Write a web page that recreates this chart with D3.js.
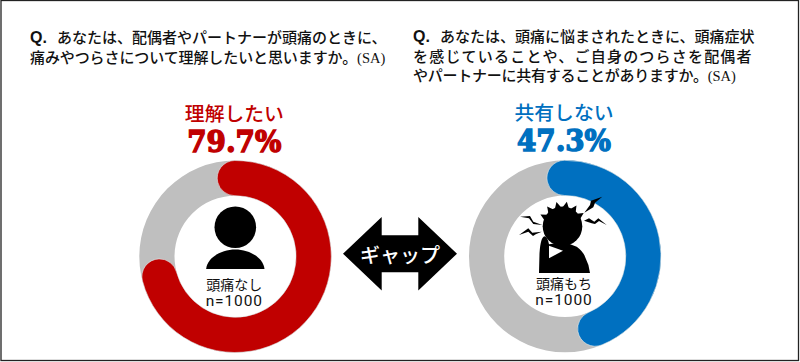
<!DOCTYPE html>
<html lang="ja">
<head>
<meta charset="utf-8">
<script src="https://cdn.jsdelivr.net/npm/d3@7"></script>
<style>
html,body{margin:0;padding:0;background:#fff}
svg{display:block}
</style>
</head>
<body>
<svg id="chart" width="800" height="362"></svg>
<script>
const panelNames = ["頭痛なし", "頭痛もち"];
const panelSizes = ["n=1000", "n=1000"];
const answerLabels = ["理解したい", "共有しない"];
const answerValues = [79.7, 47.3];
// Where each coloured arc actually ends in the picture, in percent of the ring.
const drawnArcEnds = [74.5, 47.3];
const arcColors = ["#c00000", "#0070c0"];
const questionLines = [
  ["あなたは、配偶者やパートナーが頭痛のときに、", "痛みやつらさについて理解したいと思いますか。"],
  ["あなたは、頭痛に悩まされたときに、頭痛症状", "を感じていることや、ご自身のつらさを配偶者", "やパートナーに共有することがありますか。"]
];
const gapLabel = "ギャップ";

const JP = '"Noto Sans CJK JP","Noto Sans",sans-serif';
const svg = d3.select("#chart");
svg.append("rect").attr("x",1).attr("y",0.5).attr("width",797.5).attr("height",360)
  .attr("fill","#fff").attr("stroke","#222").attr("stroke-width",1.3);

const centers = [[235.3,256.5],[565,256.3]];
const rO = 96, rI = 60.8;
const angle = d3.scaleLinear().domain([0,100]).range([0,2*Math.PI]);
const capStart = -3.7;
const ring = d3.arc().innerRadius(rI).outerRadius(rO);
const band = d3.arc().innerRadius(rI).outerRadius(rO).cornerRadius((rO-rI)/2);

answerValues.forEach((v,i)=>{
  const g = svg.append("g").attr("transform",`translate(${centers[i]})`);
  g.append("path").attr("fill","#bfbfbf")
    .attr("d",ring({startAngle:0,endAngle:2*Math.PI}));
  g.append("path").attr("fill",arcColors[i])
    .attr("stroke","#e4ecec").attr("stroke-width",0.6)
    .attr("d",band({startAngle:angle(capStart),endAngle:angle(drawnArcEnds[i])}));
  g.append("text").attr("x",-1).attr("y",-136).attr("text-anchor","middle")
    .attr("font-family",JP).attr("font-size",19.8).attr("font-weight",500)
    .attr("fill",arcColors[i]).text(answerLabels[i]);
  g.append("text").attr("x",-1).attr("y",-105).attr("text-anchor","middle")
    .attr("font-family",'"DejaVu Serif",serif').attr("font-size",30).attr("font-weight",700)
    .attr("textLength",94).attr("lengthAdjust","spacingAndGlyphs")
    .attr("stroke",arcColors[i]).attr("stroke-width",1.5)
    .attr("fill",arcColors[i]).text(v.toFixed(1)+"%");
  g.append("text").attr("x",-1).attr("y",33).attr("text-anchor","middle")
    .attr("font-family",JP).attr("font-size",14).attr("fill","#111").text(panelNames[i]);
  g.append("text").attr("x",-1).attr("y",49).attr("text-anchor","middle")
    .attr("font-family","Roboto,sans-serif").attr("font-size",15.5).attr("letter-spacing",0.9)
    .attr("fill","#111").text(panelSizes[i]);
});

// Person icon
const p = svg.append("g").attr("transform",`translate(${centers[0]})`);
p.append("circle").attr("cx",0).attr("cy",-29.3).attr("r",20.8).attr("fill","#000");
p.append("path").attr("fill","#000")
 .attr("d","M-29.2,12.5 C-28,1 -14,-7 0,-7 C14,-7 28,1 29.2,12.5 Z");

// Headache icon
const h = svg.append("g").attr("transform",`translate(${centers[1]})`).attr("fill","#000");
const hc = [-2.5,-30];
h.append("circle").attr("cx",hc[0]).attr("cy",hc[1]).attr("r",19.8);
const spikes = [-62,-38,-14,10,34,58].map(a=>{
  const r=a*Math.PI/180;
  const pt=(R,d)=>[hc[0]+R*Math.sin(r+d),hc[1]-R*Math.cos(r+d)];
  return "M"+pt(19,-0.17)+"L"+pt(25,0)+"L"+pt(19,0.17)+"Z";
});
h.append("path").attr("d",spikes.join(""));
h.append("path").attr("d","M-26,16.7 L-25.5,-3 Q-24.5,-19 -20.5,-20 Q-17.5,-19.5 -16,-12 L0,-14 L11.7,-9.6 Q18,-5 20,0.4 Q24,8 25,16.7 Z");
h.append("path").attr("fill","#fff").attr("d","M-16,-10.6 L-16,2 L-2,-5.6 Z");
h.append("path").attr("d","M37.3,-59.6 L26,-55.6 L25,-51.3 L19.3,-43.6 L28.3,-49 L30,-53.6 Z");
h.append("path").attr("d","M41.7,-31.3 L33.3,-38 L29.3,-34.6 L24,-38 L19,-35.6 L26.7,-33 L30,-32.3 L34,-35.3 Z");
h.append("path").attr("d","M-45,-39.6 L-35,-40.3 L-31.7,-34.6 L-22.7,-31.3 L-31.7,-32.3 L-36,-38 Z");
h.append("path").attr("d","M-46,-21.3 L-36.7,-28 L-32.7,-23.6 L-23.3,-24.6 L-29.3,-22 L-32,-20.3 L-36.7,-24.6 Z");

// Question text
const qx = [30, 413];
const qBase = [[43,63],[42,61.5,80.5]];
const qSpacing = [[0,-0.1],[0,1.2,-0.25]];
questionLines.forEach((lines,i)=>{
  const g = svg.append("g").attr("font-family",JP).attr("font-size",15).attr("font-weight",500).attr("fill","#111");
  g.append("text").attr("x",qx[i]).attr("y",qBase[i][0]).attr("font-family",'"Liberation Sans",sans-serif')
    .attr("font-weight",700).attr("font-size",16).text("Q.");
  lines.forEach((t,j)=>{
    const x = j===0 ? qx[i]+27 : qx[i];
    const text = g.append("text").attr("x",x).attr("y",qBase[i][j]).attr("letter-spacing",qSpacing[i][j]).text(t);
    if(j===lines.length-1){
      text.append("tspan").attr("font-family",'"Liberation Serif",serif').attr("font-weight",400)
        .attr("letter-spacing",0).attr("font-size",14.5).text("(SA)");
    }
  });
});

// Gap arrow
const a = svg.append("g").attr("transform","translate(400,253.7)");
a.append("path").attr("fill","#000")
 .attr("d","M-57,0 L-18.3,-36.7 L-18.3,-18.5 L18.3,-18.5 L18.3,-36.7 L57,0 L18.3,36.7 L18.3,18.5 L-18.3,18.5 L-18.3,36.7 Z");
a.append("text").attr("x",0).attr("y",9).attr("text-anchor","middle")
 .attr("font-family",JP).attr("font-size",20).attr("font-weight",500).attr("fill","#fff").text(gapLabel);
</script>
</body>
</html>
